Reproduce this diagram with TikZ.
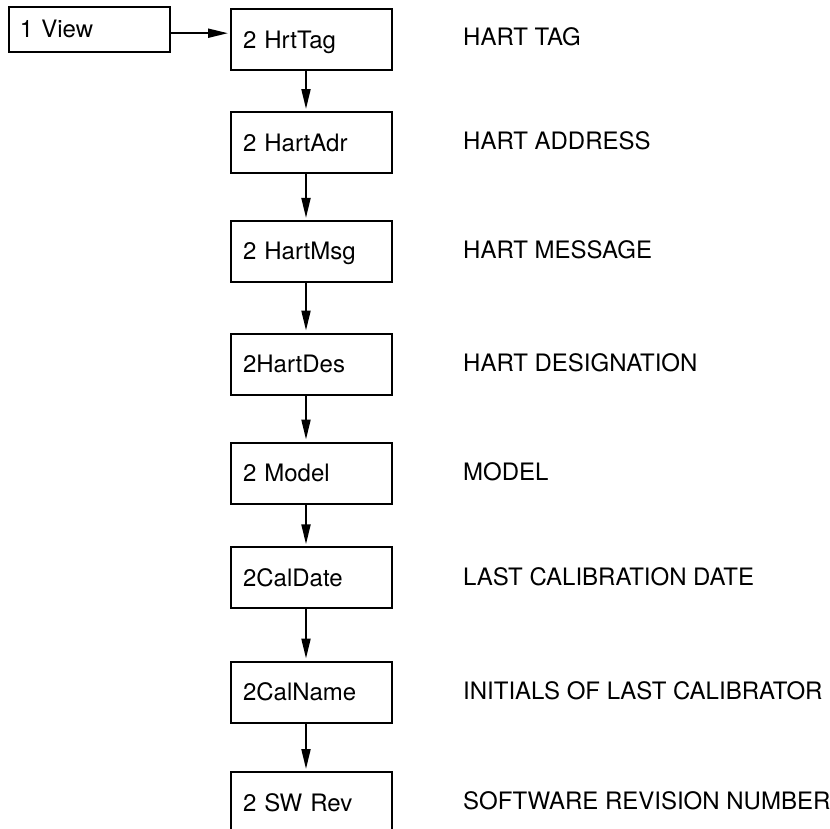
\documentclass[tikz,border=0pt]{standalone}
\usepackage{fontspec}
\setmainfont{TeX Gyre Heros}
\usetikzlibrary{arrows.meta}
\begin{document}
\begin{tikzpicture}[x=1pt,y=-1pt,
  font=\fontsize{24}{28}\selectfont,
  box/.style={draw, line width=2pt, text width=137pt, inner xsep=12pt, inner ysep=0pt,
    minimum height=61pt, align=left, text height=17pt, text depth=0pt},
  viewbox/.style={box, text width=139.5pt, inner xsep=10.7pt, minimum height=45pt},
  lbl/.style={anchor=west, inner sep=0pt, text height=17pt, text depth=0pt},
  arr/.style={line width=2pt, -{Triangle[length=20pt,width=9pt]}, shorten >=2pt}]
\clip (0,0) rectangle (830,828);
\useasboundingbox (0,0) rectangle (830,828);
\node[viewbox] (view) at (89.7,29.2) {1 View};
\node[box] (hrt)   at (311.5,39.8)  {2 HrtTag};
\node[box] (adr)   at (311.5,142.5) {2 HartAdr};
\node[box] (msg)   at (311.5,251.4) {2 HartMsg};
\node[box] (des)   at (311.5,364)   {2HartDes};
\node[box] (mod)   at (311.5,473)   {2 Model};
\node[box] (cdate) at (311.5,577.8) {2CalDate};
\node[box] (cname) at (311.5,692)   {2CalName};
\node[box] (sw)    at (311.5,802.5) {2 SW Rev};
\node[lbl] (l1) at (463,37)    {HART TAG};
\node[lbl] (l2) at (463,141)   {HART ADDRESS};
\node[lbl] (l3) at (463,250)   {HART MESSAGE};
\node[lbl] (l4) at (463,363)   {HART DESIGNATION};
\node[lbl] (l5) at (463,472)   {MODEL};
\node[lbl] (l6) at (463,577)   {LAST CALIBRATION DATE};
\node[lbl] (l7) at (463,691)   {INITIALS OF LAST CALIBRATOR};
\node[lbl] (l8) at (463,801)   {SOFTWARE REVISION NUMBER};
\draw[arr] ([yshift=-4pt]view.east) -- ([yshift=-4pt]view.east -| hrt.west);
\foreach \a/\b in {hrt/adr, adr/msg, msg/des, des/mod, mod/cdate, cdate/cname, cname/sw}
  \draw[arr] ([xshift=-5.5pt]\a.south) -- ([xshift=-5.5pt]\b.north);
\end{tikzpicture}
\end{document}
